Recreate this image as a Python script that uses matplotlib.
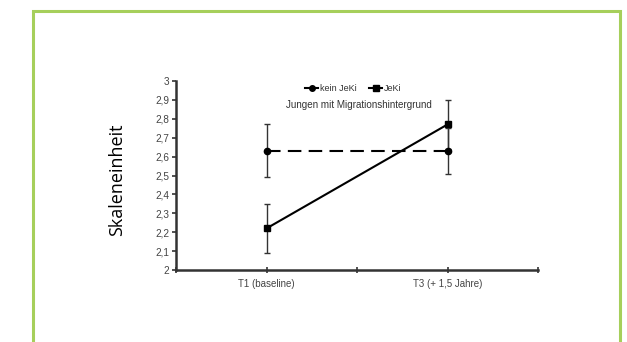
import matplotlib
matplotlib.use("Agg")
import matplotlib.pyplot as plt
from matplotlib.lines import Line2D
from matplotlib.ticker import FuncFormatter

categories = ["T1 (baseline)", "T3 (+ 1,5 Jahre)"]
kein_jeki = [2.63, 2.63]
kein_jeki_err = [0.14, 0.12]
jeki = [2.22, 2.77]
jeki_err = [0.13, 0.13]
yticks = [2.0, 2.1, 2.2, 2.3, 2.4, 2.5, 2.6, 2.7, 2.8, 2.9, 3.0]

W, H = 627, 342
fig = plt.figure(figsize=(W / 100, H / 100), dpi=100)
fig.patch.set_facecolor("white")

# green frame
green = "#a6cf5b"
fig.add_artist(Line2D([33 / W, 33 / W, 620 / W, 620 / W],
                      [0 - 0.05, 1 - 11 / H, 1 - 11 / H, -0.05],
                      transform=fig.transFigure, color=green, lw=2.2,
                      solid_joinstyle="miter"))

ax = fig.add_axes([176 / W, 1 - 270 / H, (538 - 176) / W, (270 - 81) / H])
x = [0.5, 1.5]

ax.errorbar(x, kein_jeki, yerr=kein_jeki_err, color="black", lw=1.5,
            ls=(0, (6.5, 3.5)), marker="o", ms=4.5, ecolor="#333333",
            elinewidth=1.0, capsize=2, capthick=1.0)
ax.errorbar(x, jeki, yerr=jeki_err, color="black", lw=1.5, ls="-",
            marker="s", ms=4.5, ecolor="#333333", elinewidth=1.0,
            capsize=2, capthick=1.0)

ax.set_xlim(0, 2)
ax.set_ylim(2, 3)
ax.set_yticks(yticks)
ax.yaxis.set_major_formatter(FuncFormatter(
    lambda v, p: ("%g" % round(v, 1)).replace(".", ",")))
ax.set_xticks(x)
ax.set_xticklabels(categories)
ax.set_xticks([0, 1, 2], minor=True)

for s in ["top", "right"]:
    ax.spines[s].set_visible(False)
for s in ["left", "bottom"]:
    ax.spines[s].set_color("#333333")
    ax.spines[s].set_linewidth(1.8)

ax.tick_params(axis="y", direction="out", length=3, width=1.2,
               colors="#333333", labelsize=7.2, labelcolor="#444444", pad=2)
ax.tick_params(axis="x", which="both", direction="inout", length=5,
               width=1.2, colors="#333333", labelsize=7,
               labelcolor="#444444", pad=4)
for lab in ax.get_xticklabels() + ax.get_yticklabels():
    lab.set_family("Liberation Sans")

handles = [Line2D([], [], color="black", lw=1.5, marker="o", ms=4),
           Line2D([], [], color="black", lw=1.5, marker="s", ms=4)]
leg = ax.legend(handles, ["kein JeKi", "JeKi"], loc="center",
                bbox_to_anchor=(0.49, 0.958), ncol=2,
                frameon=False, handlelength=1.4, handletextpad=0.2,
                columnspacing=1.4, prop={"family": "Liberation Sans",
                                         "size": 6.5})
for t in leg.get_texts():
    t.set_color("#333333")

ax.text(0.506, 0.873, "Jungen mit Migrationshintergrund",
        transform=ax.transAxes, ha="center", va="center",
        fontsize=7.1, color="#333333", family="Liberation Sans")

fig.text(117 / W, 1 - 180 / H, "Skaleneinheit", rotation=90,
         ha="center", va="center", fontsize=13, family="Open Sans",
         color="black")

fig.savefig("out.png", dpi=100)
